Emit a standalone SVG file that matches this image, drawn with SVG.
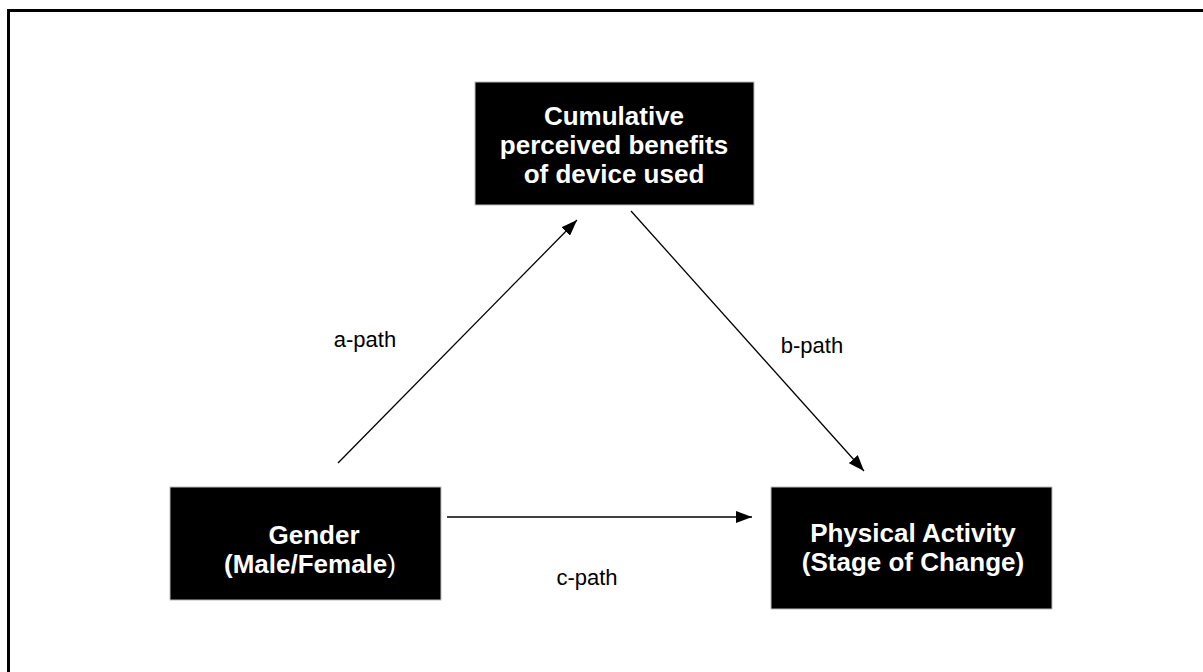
<svg xmlns="http://www.w3.org/2000/svg" width="1203" height="672" viewBox="0 0 1203 672">
<defs>
<style>
.box{fill:#000;stroke:#bbb;stroke-width:1}
.nt{font-family:"Liberation Sans",Arial,sans-serif;font-size:26px;font-weight:bold;fill:#fff;text-anchor:middle}
.lbl{font-family:"Liberation Sans",Arial,sans-serif;font-size:22px;fill:#000;text-anchor:middle}
.edge{stroke:#000;stroke-width:1.3;fill:none;marker-end:url(#ah)}
</style>
<marker id="ah" viewBox="0 0 16 12" refX="16" refY="6" markerWidth="16" markerHeight="12" markerUnits="userSpaceOnUse" orient="auto">
<path d="M0,0 L16,6 L0,12 z" fill="#000"/>
</marker>
</defs>
<rect x="0" y="0" width="1203" height="672" fill="#fff"/>
<rect x="8.5" y="10.5" width="1220" height="700" fill="none" stroke="#000" stroke-width="3"/>
<g id="connectors">
<line class="edge" x1="338" y1="463" x2="577" y2="220"/>
<line class="edge" x1="631" y1="211" x2="864" y2="471"/>
<line class="edge" x1="447" y1="517" x2="752" y2="517"/>
<text class="lbl" x="365" y="347">a-path</text>
<text class="lbl" x="812" y="353">b-path</text>
<text class="lbl" x="587" y="585">c-path</text>
</g>
<g id="node-benefits">
<rect class="box" x="475" y="82" width="279" height="123"/>
<text class="nt" x="614" y="125">Cumulative</text>
<text class="nt" x="614" y="154">perceived benefits</text>
<text class="nt" x="614" y="183">of device used</text>
</g>
<g id="node-gender">
<rect class="box" x="170" y="487" width="271" height="113"/>
<text class="nt" x="314" y="544">Gender</text>
<text class="nt" x="310" y="573">(Male/Female<tspan font-weight="normal">)</tspan></text>
</g>
<g id="node-activity">
<rect class="box" x="771" y="487" width="281" height="122"/>
<text class="nt" x="913" y="542">Physical Activity</text>
<text class="nt" x="913" y="571">(Stage of Change)</text>
</g>
</svg>
